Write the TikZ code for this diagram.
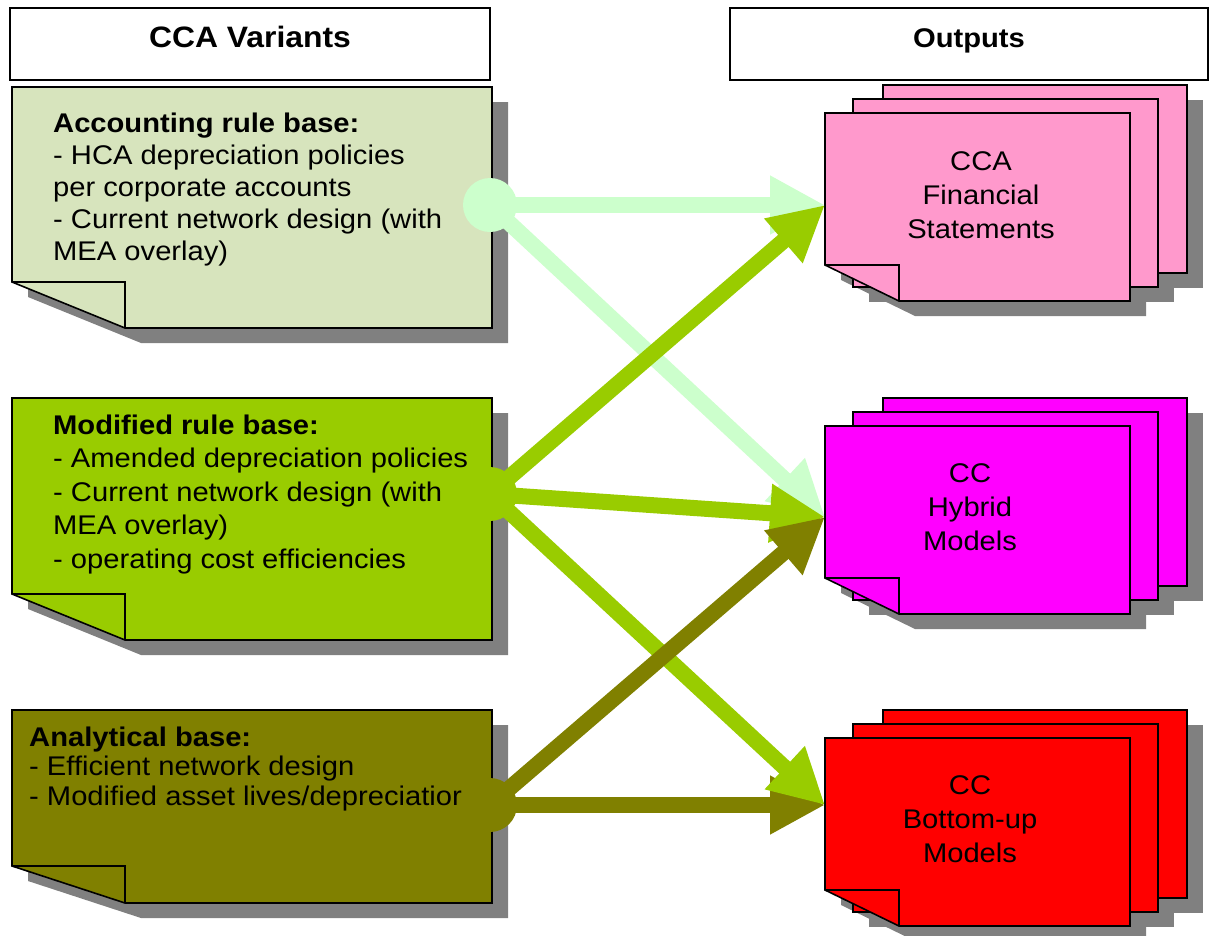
\documentclass[tikz,border=0pt]{standalone}
\usepackage{fontspec}
\setmainfont[FakeStretch=1.08]{Liberation Sans}
\usetikzlibrary{arrows.meta}

\definecolor{rulelight}{HTML}{D7E4BD}
\definecolor{rulelime}{HTML}{99CC00}
\definecolor{ruleolive}{HTML}{808000}
\definecolor{flowlight}{HTML}{CCFFCC}
\definecolor{outpink}{HTML}{FF99CC}
\definecolor{outmagenta}{HTML}{FF00FF}
\definecolor{outred}{HTML}{FF0000}
\definecolor{shadowgray}{HTML}{808080}

% note with folded corner: x0, y0, x1, y1, fold width, fold height, fill
\newcommand{\foldnote}[7]{%
  \fill[shadowgray] (#1+16,#2+15) -- (#3+16,#2+15) -- (#3+16,#4+15) -- (#1+#5+16,#4+15) -- (#1+16,#4-#6+15) -- cycle;
  \filldraw[outline, fill=#7] (#1,#2) -- (#3,#2) -- (#3,#4) -- (#1+#5,#4) -- (#1,#4-#6) -- cycle;
  \draw[outline] (#1,#4-#6) -- (#1+#5,#4-#6) -- (#1+#5,#4);
}
% stack of three output sheets: top of front sheet, fill
\newcommand{\outstack}[2]{%
  \fill[shadowgray] (899,#1-13) rectangle (1203,#1+175);
  \fill[shadowgray] (869,#1+1) rectangle (1174,#1+189);
  \fill[shadowgray] (841,#1+15) -- (1146,#1+15) -- (1146,#1+203) -- (915,#1+203) -- (841,#1+167) -- cycle;
  \filldraw[outline, fill=#2] (883,#1-28) rectangle (1187,#1+160);
  \filldraw[outline, fill=#2] (853,#1-14) rectangle (1158,#1+174);
  \filldraw[outline, fill=#2] (825,#1) -- (1130,#1) -- (1130,#1+188) -- (899,#1+188) -- (825,#1+152) -- cycle;
  \draw[outline] (825,#1+152) -- (899,#1+152) -- (899,#1+188);
}

\begin{document}
\begin{tikzpicture}[x=1pt, y=-1pt,
    outline/.style={draw=black, line width=1.6pt},
    header/.style={outline, fill=white, minimum height=72pt, inner sep=0pt,
      font=\bfseries\fontsize{27}{32}\selectfont, text height=19pt, text depth=12pt},
    ruletext/.style={anchor=base west, align=left, inner sep=0pt},
    outtext/.style={anchor=base, align=center, inner sep=0pt, font=\fontsize{27}{34}\selectfont},
    flow/.style={line width=16pt, -{Triangle[length=55pt, width=55pt]}}
  ]
  \useasboundingbox (0,0) rectangle (1212,935);

  % headings
  \node[header, minimum width=480pt, font=\bfseries\fontsize{29.5}{32}\selectfont, text height=21pt, text depth=14pt] (variants) at (250,44) {CCA Variants};
  \node[header, minimum width=478pt] (outputs) at (969,44) {Outputs};

  % CCA variants (text placed by the baseline of its last line)
  \foldnote{12}{87}{492}{328}{113}{46}{rulelight}
  \foldnote{12}{398}{492}{640}{113}{46}{rulelime}
  \foldnote{12}{710}{492}{903}{113}{37}{ruleolive}
  \node[ruletext, font=\fontsize{27}{32}\selectfont] (acc) at (53,260) {\textbf{Accounting rule base:}\\- HCA depreciation policies\\per corporate accounts\\- Current network design (with\\MEA overlay)};
  \node[ruletext, font=\fontsize{27}{33.5}\selectfont] (mod) at (53,568) {\textbf{Modified rule base:}\\- Amended depreciation policies\\- Current network design (with\\MEA overlay)\\- operating cost efficiencies};
  \node[ruletext, font=\fontsize{27}{29.5}\selectfont] (ana) at (29,805) {\textbf{Analytical base:}\\- Efficient network design\\- Modified asset lives/depreciatior};

  % outputs
  \outstack{113}{outpink}
  \outstack{426}{outmagenta}
  \outstack{738}{outred}
  \node[outtext] (fin) at (981,238) {CCA\\Financial\\Statements};
  \node[outtext] (hyb) at (970,550) {CC\\Hybrid\\Models};
  \node[outtext] (bot) at (970,862) {CC\\Bottom-up\\Models};

  % flows
  \coordinate (accsrc) at (490,205);
  \coordinate (modsrc) at (490,494);
  \coordinate (anasrc) at (490,805);
  \coordinate (finin) at (825,205);
  \coordinate (hybin) at (825,517);
  \coordinate (botin) at (825,805);

  \fill[flowlight] (accsrc) circle[radius=27];
  \draw[flow, flowlight] (accsrc) -- (finin);
  \draw[flow, flowlight] (accsrc) -- (hybin);
  \fill[rulelime] (modsrc) circle[radius=27];
  \draw[flow, rulelime] (modsrc) -- (finin);
  \draw[flow, rulelime] (modsrc) -- (hybin);
  \fill[ruleolive] (anasrc) circle[radius=27];
  \draw[flow, ruleolive] (anasrc) -- (botin);
  \draw[flow, rulelime] (modsrc) -- (botin);
  \draw[flow, ruleolive] (anasrc) -- (hybin);
\end{tikzpicture}
\end{document}
